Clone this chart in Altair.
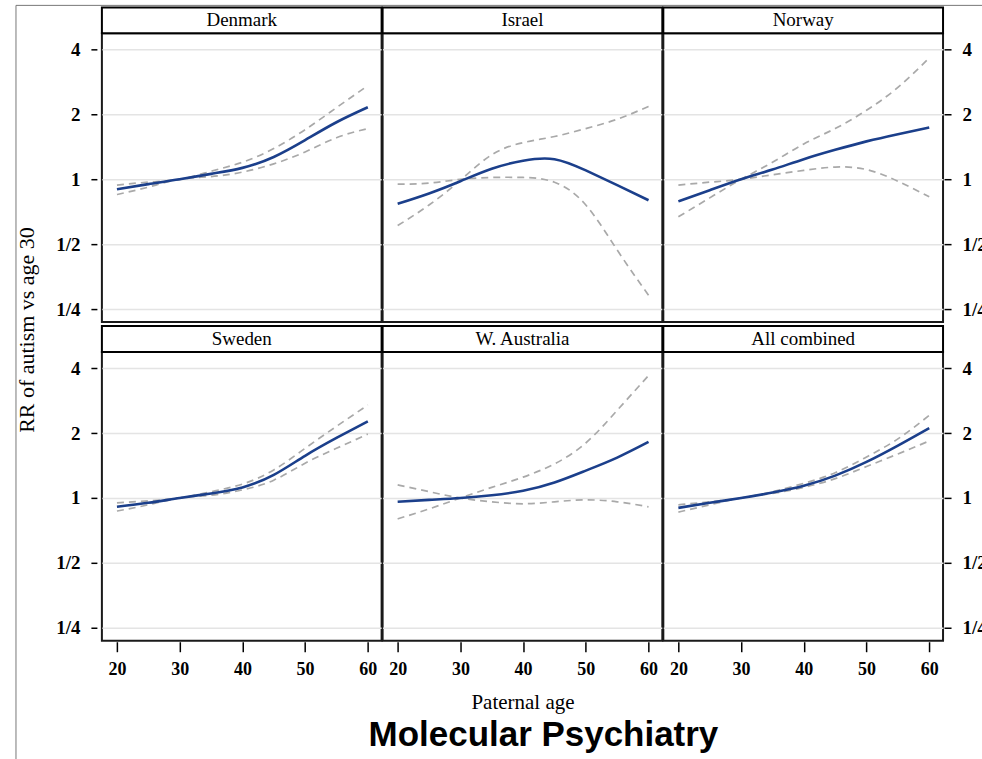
import altair as alt
import pandas as pd

# ---------------- data ----------------
ages = [20, 25, 30, 35, 40, 45, 50, 55, 60]

panel_names = ["Denmark", "Israel", "Norway", "Sweden", "W. Australia", "All combined"]

denmark_rr = [0.90, 0.95, 1.00, 1.06, 1.13, 1.27, 1.52, 1.84, 2.16]
denmark_hi = [0.94, 0.97, 1.00, 1.09, 1.20, 1.39, 1.70, 2.15, 2.72]
denmark_lo = [0.85, 0.92, 1.00, 1.03, 1.08, 1.18, 1.34, 1.56, 1.72]

israel_rr = [0.77, 0.86, 0.98, 1.12, 1.22, 1.24, 1.10, 0.94, 0.80]
israel_hi = [0.61, 0.76, 0.99, 1.30, 1.48, 1.58, 1.72, 1.90, 2.18]
israel_lo = [0.95, 0.96, 1.00, 1.02, 1.02, 0.97, 0.76, 0.47, 0.29]

norway_rr = [0.79, 0.89, 1.00, 1.11, 1.24, 1.37, 1.50, 1.62, 1.74]
norway_hi = [0.67, 0.82, 1.00, 1.20, 1.46, 1.72, 2.09, 2.67, 3.66]
norway_lo = [0.94, 0.97, 1.00, 1.05, 1.10, 1.14, 1.11, 0.98, 0.83]

sweden_rr = [0.91, 0.95, 1.00, 1.05, 1.12, 1.28, 1.57, 1.90, 2.27]
sweden_hi = [0.95, 0.97, 1.00, 1.07, 1.16, 1.35, 1.70, 2.15, 2.70]
sweden_lo = [0.87, 0.93, 1.00, 1.03, 1.09, 1.21, 1.45, 1.70, 1.98]

wa_rr = [0.96, 0.98, 1.00, 1.03, 1.08, 1.18, 1.34, 1.54, 1.82]
wa_hi = [0.80, 0.89, 1.00, 1.12, 1.25, 1.44, 1.80, 2.55, 3.70]
wa_lo = [1.15, 1.07, 1.00, 0.96, 0.94, 0.96, 0.98, 0.96, 0.91]

all_rr = [0.90, 0.95, 1.00, 1.06, 1.14, 1.27, 1.47, 1.75, 2.11]
all_hi = [0.93, 0.96, 1.00, 1.07, 1.17, 1.31, 1.55, 1.88, 2.42]
all_lo = [0.86, 0.93, 1.00, 1.05, 1.12, 1.23, 1.40, 1.60, 1.84]

y_tick_values = [0.25, 0.5, 1, 2, 4]
y_tick_labels = ["1/4", "1/2", "1", "2", "4"]
x_tick_values = [20, 30, 40, 50, 60]

y_title = "RR of autism vs age 30"
x_title = "Paternal age"
footer = "Molecular Psychiatry"

series_by_panel = {
    "Denmark": (denmark_rr, denmark_hi, denmark_lo),
    "Israel": (israel_rr, israel_hi, israel_lo),
    "Norway": (norway_rr, norway_hi, norway_lo),
    "Sweden": (sweden_rr, sweden_hi, sweden_lo),
    "W. Australia": (wa_rr, wa_hi, wa_lo),
    "All combined": (all_rr, all_hi, all_lo),
}

rows = []
for name in panel_names:
    est, hi, lo = series_by_panel[name]
    for a, e, h, l in zip(ages, est, hi, lo):
        rows.append({"panel": name, "age": a, "series": "estimate", "value": e})
        rows.append({"panel": name, "age": a, "series": "upper", "value": h})
        rows.append({"panel": name, "age": a, "series": "lower", "value": l})
df = pd.DataFrame(rows)

# ---------------- style ----------------
SERIF = "Liberation Serif"
SANS = "Liberation Sans"
W, H, HEAD = 280, 289, 26
Y_DOMAIN = [0.2176, 4.757]
X_DOMAIN = [17.6, 62.2]
BLUE = "#1b3f8b"
GREY = "#a9a9a9"
GRID = "#e4e4e4"
INTERP = "natural"

label_expr = ""
for v, lab in zip(y_tick_values, y_tick_labels):
    label_expr += f"datum.value == {v} ? '{lab}' : "
label_expr += "datum.label"

common_y = dict(values=y_tick_values, grid=True, gridColor=GRID, gridWidth=1.5,
                domain=False, title=None, labelOverlap=False)


def y_axis(col):
    if col == 0:
        return alt.Axis(orient="left", labelExpr=label_expr, ticks=True, tickSize=6,
                        tickWidth=1.5, tickColor="black", offset=5, labelPadding=11,
                        labelFont=SERIF, labelFontSize=19, labelFontWeight="bold",
                        labelColor="black", **common_y)
    if col == 2:
        return alt.Axis(orient="right", labelExpr=label_expr, ticks=True, tickSize=7,
                        tickWidth=1.5, tickColor="black", offset=1, labelPadding=11,
                        labelFont=SERIF, labelFontSize=19, labelFontWeight="bold",
                        labelColor="black", labelAlign="left", **common_y)
    return alt.Axis(labels=False, ticks=False, **common_y)


def x_axis(row, col):
    if row == 0:
        return None
    kw = dict(values=x_tick_values, grid=False, domain=False, tickSize=10, tickWidth=1.5,
              tickColor="black", offset=1, labelPadding=9, labelFont=SERIF,
              labelFontSize=18, labelFontWeight="bold", labelColor="black",
              labelFlush=False, labelOverlap=False)
    if col == 1:
        return alt.Axis(title=x_title, titleFont=SERIF, titleFontSize=21,
                        titleFontWeight="normal", titleColor="black", titlePadding=13, **kw)
    return alt.Axis(title=None, **kw)


def panel(idx, name):
    row, col = divmod(idx, 3)
    d = df[df.panel == name]
    xax = x_axis(row, col)
    x = alt.X("age:Q", scale=alt.Scale(domain=X_DOMAIN, nice=False, zero=False), axis=xax)
    y = alt.Y("value:Q", scale=alt.Scale(type="log", base=2, domain=Y_DOMAIN, nice=False),
              axis=y_axis(col))

    band = alt.Chart(d).transform_filter(alt.datum.series != "estimate").mark_line(
        color=GREY, strokeWidth=1.7, strokeDash=[7, 5], interpolate=INTERP
    ).encode(x=x, y=y, detail="series:N")
    est = alt.Chart(d).transform_filter(alt.datum.series == "estimate").mark_line(
        color=BLUE, strokeWidth=2.6, interpolate=INTERP
    ).encode(x=x, y=y)

    hdr = pd.DataFrame({"label": [name]})
    head_box = alt.Chart(hdr).mark_rect(fill="white", stroke="black", strokeWidth=2).encode(
        x=alt.value(0), x2=alt.value(W), y=alt.value(-HEAD), y2=alt.value(0))
    head_txt = alt.Chart(hdr).mark_text(font=SERIF, fontSize=19, color="black",
                                        baseline="middle", align="center").encode(
        text="label:N", x=alt.value(W / 2), y=alt.value(-HEAD / 2))

    layers = [band, est, head_box, head_txt]

    if idx == 0:
        frame = pd.DataFrame({"k": [0]})
        layers.append(alt.Chart(frame).mark_rule(color="#777777", strokeWidth=1).encode(
            x=alt.value(-86), y=alt.value(-28), y2=alt.value(733)))
        layers.append(alt.Chart(frame).mark_rule(color="#777777", strokeWidth=1).encode(
            x=alt.value(-86), x2=alt.value(889), y=alt.value(-28)))
    if idx == 3:
        t = pd.DataFrame({"t": [y_title]})
        layers.append(alt.Chart(t).mark_text(font=SERIF, fontSize=22, color="black", angle=270,
                                             align="center", baseline="middle").encode(
            text="t:N", x=alt.value(-75), y=alt.value(-22)))
    if idx == 4:
        t = pd.DataFrame({"t": [footer]})
        layers.append(alt.Chart(t).mark_text(font=SANS, fontSize=35, fontWeight="bold",
                                             color="black", align="center",
                                             baseline="alphabetic").encode(
            text="t:N", x=alt.value(161), y=alt.value(394)))

    return alt.layer(*layers).properties(width=W, height=H)


panels = [panel(i, n) for i, n in enumerate(panel_names)]

chart = alt.concat(
    *panels, columns=3, spacing={"row": 30, "column": 1}, bounds="flush"
).properties(
    padding={"left": 14, "top": 3, "right": -10, "bottom": -7}
).configure(
    background="white",
    view=alt.ViewConfig(stroke="#1a1a1a", strokeWidth=2),
)

chart.save("out.html", embed_options={"renderer": "svg", "actions": False})
